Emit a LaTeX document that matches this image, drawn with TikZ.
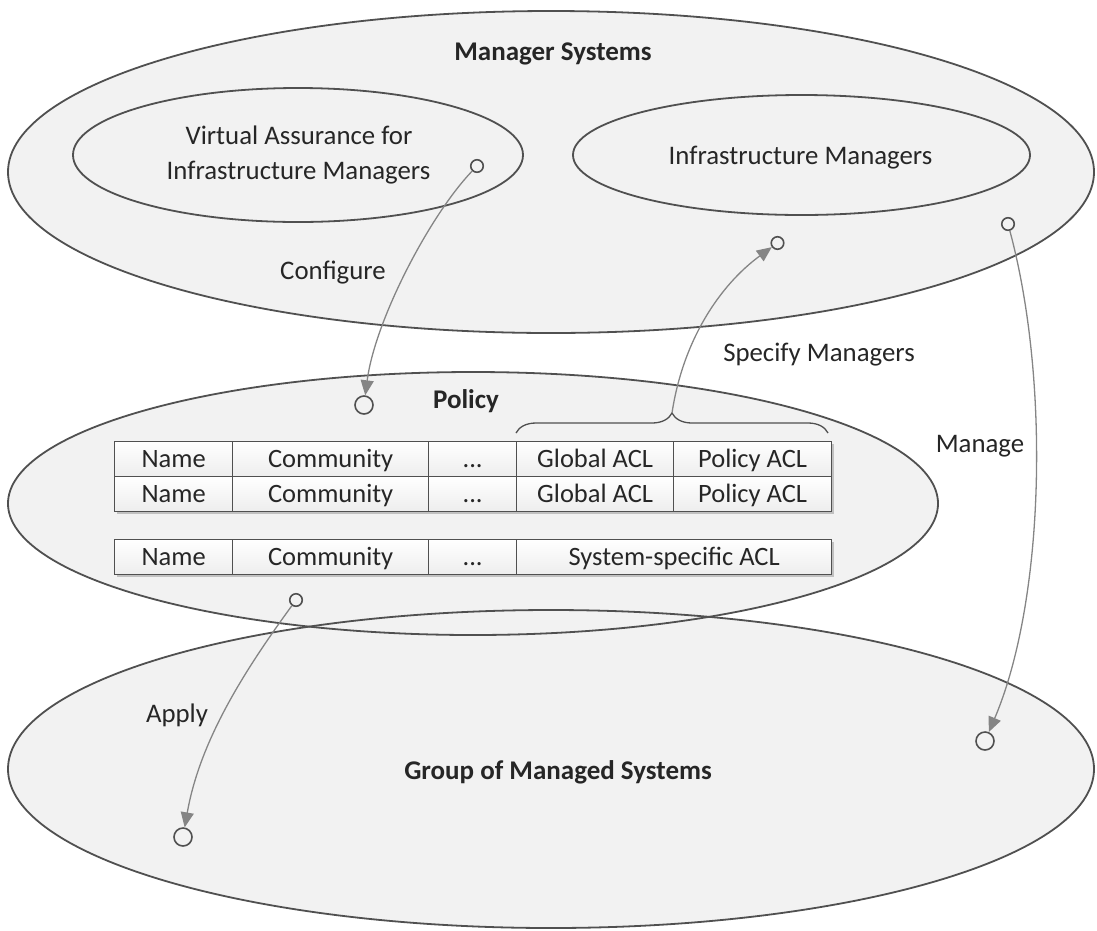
\documentclass[tikz,border=0pt]{standalone}
\usepackage{fontspec}
\setmainfont{Carlito}
\usetikzlibrary{shapes.geometric,arrows.meta,decorations.pathreplacing,backgrounds}
\definecolor{fillg}{HTML}{F2F2F2}
\definecolor{edge}{HTML}{505050}
\definecolor{arrg}{HTML}{858585}
\definecolor{txt}{HTML}{262626}
\begin{document}
\begin{tikzpicture}[x=1pt,y=-1pt,
  ell/.style={ellipse, draw=edge, line width=1.8pt, inner sep=0pt},
  lbl/.style={font=\fontsize{26.8}{31}\selectfont, text=txt, anchor=base, inner sep=0pt},
  ttl/.style={font=\fontsize{27}{31}\selectfont\bfseries, text=txt, anchor=base, inner sep=0pt},
  cell/.style={rectangle, draw=edge, line width=1.3pt, top color=white, bottom color=black!7,
    minimum height=35pt, inner sep=0pt, text height=16.5pt, text depth=0pt, anchor=north west,
    font=\fontsize{26.5}{31}\selectfont, text=txt},
  dot/.style={circle, draw=edge, line width=1.6pt, inner sep=0pt, minimum size=12.5pt},
  bigdot/.style={circle, draw=edge, line width=1.6pt, inner sep=0pt, minimum size=18pt},
  arr/.style={draw=arrg, line width=1.3pt, -{Triangle[length=15pt,width=13pt]}}
]
\useasboundingbox (0,0) rectangle (1097,930);

% ellipses
\node[ell, minimum width=1086pt, minimum height=322pt] (ms) at (551,172) {};
\node[ell, minimum width=450pt, minimum height=134pt] (va) at (298,155) {};
\node[ell, minimum width=457pt, minimum height=120pt] (im) at (801.5,155) {};
\node[ell, minimum width=930pt, minimum height=263pt] (pol) at (473,503.5) {};
\node[ell, minimum width=1086pt, minimum height=318pt] (grp) at (551,769) {};

\begin{scope}[on background layer]
  \fill[fillg] (ms.center) ellipse [x radius=543pt, y radius=161pt];
  \fill[fillg] (pol.center) ellipse [x radius=465pt, y radius=131.5pt];
  \fill[fillg] (grp.center) ellipse [x radius=543pt, y radius=159pt];
\end{scope}

% titles and labels
\node[ttl] (tms) at (553,60) {Manager Systems};
\node[lbl] (tva1) at (299,144) {Virtual Assurance for};
\node[lbl] (tva2) at (298.5,179) {Infrastructure Managers};
\node[lbl] (tim) at (800.5,164) {Infrastructure Managers};
\node[lbl] (tconf) at (333,279) {Configure};
\node[lbl] (tspec) at (819,361) {Specify Managers};
\node[ttl] (tpol) at (466,408) {Policy};
\node[lbl] (tman) at (980,452) {Manage};
\node[lbl] (tapp) at (177,722) {Apply};
\node[ttl] (tgrp) at (558,779) {Group of Managed Systems};

% table shadows
\fill[black, opacity=0.2] (117,444) rectangle (834,514);
\fill[black, opacity=0.2] (117,542) rectangle (834,577);

% table rows
\node[cell, minimum width=118pt] (r1a) at (114,441) {Name};
\node[cell, minimum width=196pt] (r1b) at (232,441) {Community};
\node[cell, minimum width=88pt]  (r1c) at (428,441) {...};
\node[cell, minimum width=157pt] (r1d) at (516,441) {Global ACL};
\node[cell, minimum width=158pt] (r1e) at (673,441) {Policy ACL};

\node[cell, minimum width=118pt] (r2a) at (114,476) {Name};
\node[cell, minimum width=196pt] (r2b) at (232,476) {Community};
\node[cell, minimum width=88pt]  (r2c) at (428,476) {...};
\node[cell, minimum width=157pt] (r2d) at (516,476) {Global ACL};
\node[cell, minimum width=158pt] (r2e) at (673,476) {Policy ACL};

\node[cell, minimum width=118pt] (r3a) at (114,539) {Name};
\node[cell, minimum width=196pt] (r3b) at (232,539) {Community};
\node[cell, minimum width=88pt]  (r3c) at (428,539) {...};
\node[cell, minimum width=315pt] (r3d) at (516,539) {System-specific ACL};

% brace
\coordinate (bl) at (516,433);
\coordinate (br) at (828,433);
\coordinate (bt) at (672,413);
\draw[draw=edge, line width=1.3pt, decorate, decoration={brace, amplitude=20pt}] (bl) -- (br);

% connection points
\node[dot] (c1) at (477,166) {};
\node[bigdot] (c2) at (364,405) {};
\node[dot] (c3) at (777.5,243) {};
\node[dot] (c4) at (1008,224) {};
\node[bigdot] (c5) at (985,741) {};
\node[dot] (c6) at (296,600) {};
\node[bigdot] (c7) at (183,837) {};

% connectors
\draw[arr] (c1) .. controls (430,215) and (375,320) .. (c2);
\draw[arr] (bt) .. controls (683,340) and (720,285) .. (c3);
\draw[arr] (c4) .. controls (1050,380) and (1045,600) .. (c5);
\draw[arr] (c6) .. controls (245,670) and (200,740) .. (c7);
\end{tikzpicture}
\end{document}
